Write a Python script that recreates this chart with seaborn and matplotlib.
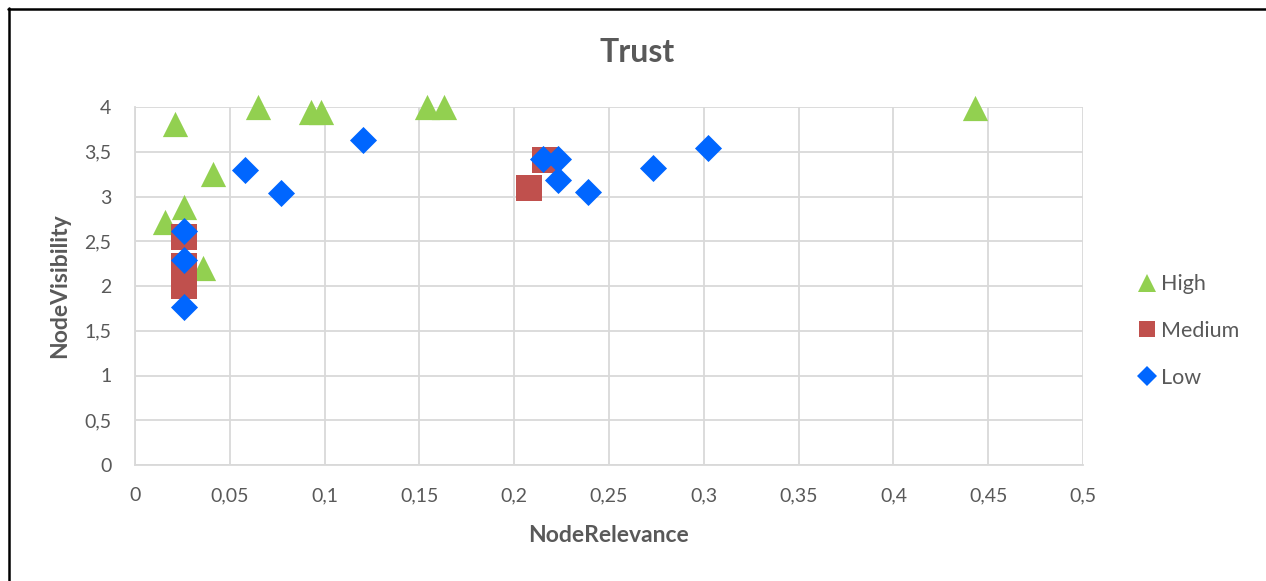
import matplotlib
matplotlib.use("Agg")
import matplotlib.pyplot as plt
from matplotlib.lines import Line2D
import seaborn as sns
import pandas as pd

# Trust levels and their (NodeRelevance, NodeVisibility) observations
high_x = [0.021, 0.065, 0.093, 0.098, 0.154, 0.163, 0.443, 0.041, 0.016, 0.026, 0.036, 0.026]
high_y = [3.81, 4.00, 3.94, 3.94, 4.00, 4.00, 3.99, 3.25, 2.72, 2.88, 2.20, 2.32]

medium_x = [0.026, 0.026, 0.026, 0.208, 0.216]
medium_y = [2.55, 2.22, 2.00, 3.09, 3.41]

low_x = [0.026, 0.026, 0.026, 0.058, 0.077, 0.120, 0.215, 0.223, 0.223, 0.239, 0.273, 0.302]
low_y = [2.61, 2.29, 1.77, 3.30, 3.04, 3.63, 3.42, 3.42, 3.18, 3.05, 3.32, 3.54]

levels = ["High", "Medium", "Low"]
x_ticks = [0, 0.05, 0.1, 0.15, 0.2, 0.25, 0.3, 0.35, 0.4, 0.45, 0.5]
y_ticks = [0, 0.5, 1, 1.5, 2, 2.5, 3, 3.5, 4]

df = pd.concat([
    pd.DataFrame({"NodeRelevance": high_x, "NodeVisibility": high_y, "Trust": "High"}),
    pd.DataFrame({"NodeRelevance": medium_x, "NodeVisibility": medium_y, "Trust": "Medium"}),
    pd.DataFrame({"NodeRelevance": low_x, "NodeVisibility": low_y, "Trust": "Low"}),
], ignore_index=True)

sns.set_theme(style="white")
plt.rcParams["font.family"] = ["Lato", "DejaVu Sans"]
text_color = "#595959"

fig = plt.figure(figsize=(12.66, 5.81), dpi=100)
ax = fig.add_axes([135 / 1266, 1 - 465 / 581, 948 / 1266, 358 / 581])

palette = {"High": "#92D050", "Medium": "#C0504D", "Low": "#0066FF"}
markers = {"High": "^", "Medium": "s", "Low": "D"}
sizes = {"High": 330, "Medium": 330, "Low": 190}

# Series drawn in order so Low sits on top of Medium, which sits on top of High
for lvl in levels:
    sub = df[df["Trust"] == lvl]
    sns.scatterplot(data=sub, x="NodeRelevance", y="NodeVisibility", color=palette[lvl],
                    marker=markers[lvl], s=sizes[lvl], linewidth=0, ax=ax,
                    zorder=3, clip_on=False, legend=False)

ax.set_xlim(0, 0.5)
ax.set_ylim(0, 4)
ax.set_xticks(x_ticks)
ax.set_yticks(y_ticks)
fmt = lambda v: ("%g" % v).replace(".", ",")
ax.set_xticklabels([fmt(v) for v in x_ticks])
ax.set_yticklabels([fmt(v) for v in y_ticks])
ax.tick_params(axis="both", length=0, labelsize=14, colors=text_color)
ax.tick_params(axis="x", pad=16)
ax.tick_params(axis="y", pad=17)
ax.grid(True, color="#D9D9D9", linewidth=1.3)
ax.set_axisbelow(True)
for side in ["top", "right"]:
    ax.spines[side].set_visible(False)
for side in ["left", "bottom"]:
    ax.spines[side].set_color("#D9D9D9")
    ax.spines[side].set_linewidth(1.3)

ax.set_xlabel("")
ax.set_ylabel("")
fig.text(608 / 1266, 1 - 536 / 581, "NodeRelevance", ha="center", va="center",
         fontsize=16.5, fontweight="bold", color=text_color)
fig.text(60 / 1266, 1 - 286 / 581, "NodeVisibility", ha="center", va="center", rotation=90,
         fontsize=16.5, fontweight="bold", color=text_color)
fig.text(637 / 1266, 1 - 52 / 581, "Trust", ha="center", va="center",
         fontsize=23, fontweight="bold", color=text_color)

handles = [Line2D([], [], linestyle="none", marker=markers[l], color=palette[l],
                  markeredgewidth=0, markersize={"High": 12.5, "Medium": 11.5, "Low": 10}[l])
           for l in levels]
leg = fig.legend(handles, levels, loc="center left", bbox_to_anchor=(1136 / 1266, 1 - 331 / 581),
                 frameon=False, fontsize=15.5, labelspacing=1.25, handletextpad=0.15,
                 handlelength=1.0, borderpad=0, borderaxespad=0)
for t in leg.get_texts():
    t.set_color(text_color)

# Frame lines along the top and left edges of the chart area
fig.add_artist(Line2D([8 / 1266, 1], [1 - 8.5 / 581, 1 - 8.5 / 581],
                      transform=fig.transFigure, color="black", linewidth=1.8))
fig.add_artist(Line2D([8.5 / 1266, 8.5 / 1266], [0, 1 - 8 / 581],
                      transform=fig.transFigure, color="black", linewidth=1.8))

fig.savefig("out.png", dpi=100)
